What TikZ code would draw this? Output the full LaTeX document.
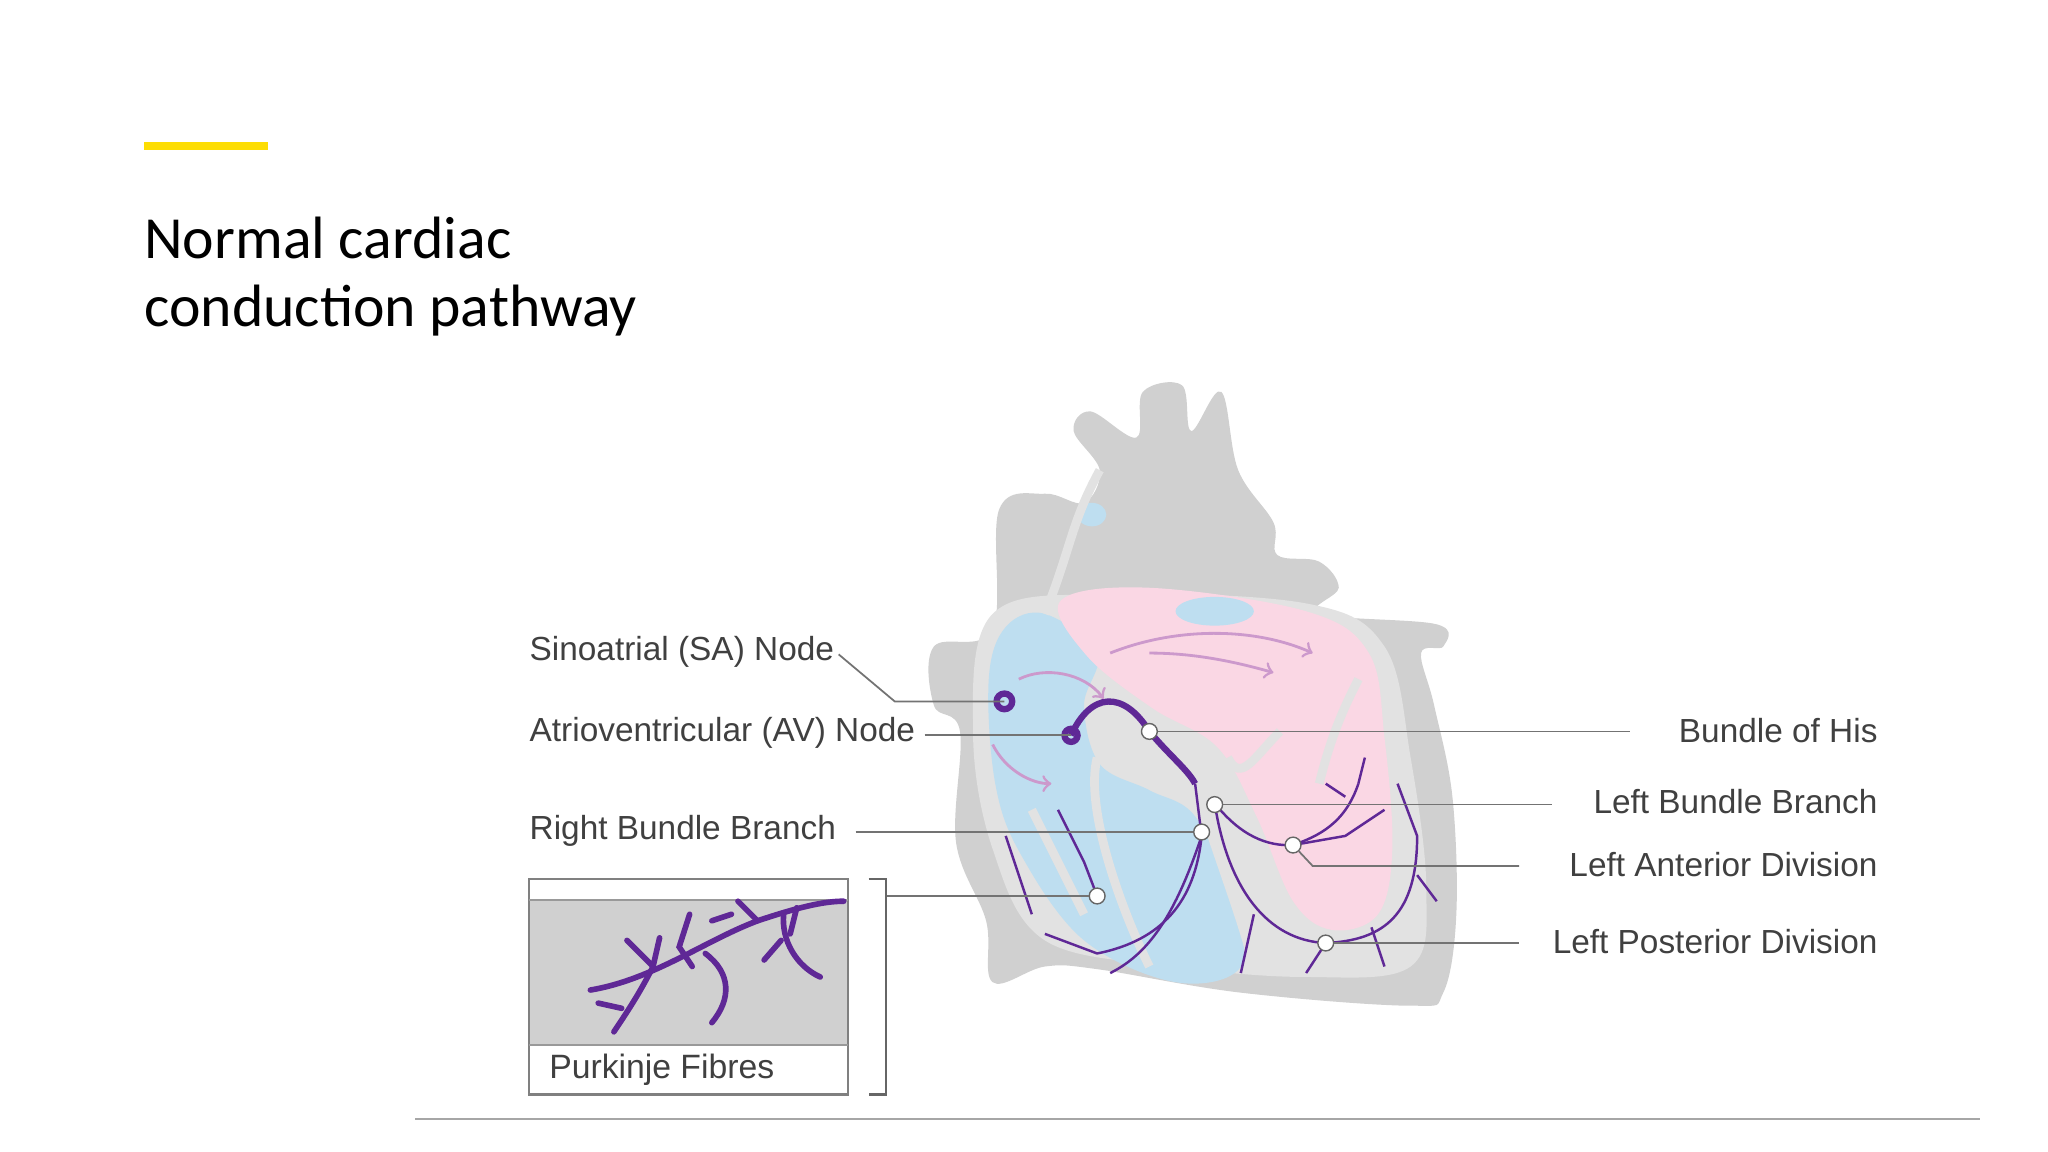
\documentclass[tikz,border=0pt]{standalone}
\usepackage{fontspec}
\setmainfont{Liberation Sans}
\newfontfamily\titlefont{Carlito}
\definecolor{hblue}{RGB}{190,222,240}
\definecolor{hpink}{RGB}{250,215,228}
\definecolor{hgray}{RGB}{208,208,208}
\definecolor{hlgray}{RGB}{226,226,226}
\definecolor{hvio}{RGB}{95,40,150}
\begin{document}
\begin{tikzpicture}[x=0.01306cm,y=-0.01306cm,
  lbl/.style={font=\fontsize{9.5pt}{11pt}\selectfont,text=black!75,inner sep=0},
  lead/.style={draw=black!55,line width=0.5pt},
  dot/.style={circle,draw=black!60,fill=white,inner sep=0,minimum size=4.5pt,line width=0.4pt},
  fib/.style={draw=hvio,line width=0.7pt},
  wall/.style={draw=hlgray,line width=2.5pt}]
\useasboundingbox (0,0) rectangle (1568,882);
\fill[white] (0,0) rectangle (1568,882);
% title
\fill[yellow!80!orange] (110,109) rectangle (205,115);
\node[anchor=west,font=\titlefont\fontsize{17pt}{22pt}\selectfont,inner sep=0] (t1) at (110,182) {Normal cardiac};
\node[anchor=west,font=\titlefont\fontsize{17pt}{22pt}\selectfont,inner sep=0] (t2) at (110,238) {conduction pathway};
\draw[black!35,line width=0.6pt] (318,857) -- (1516,857);
% heart body
\fill[hgray] plot[smooth cycle,tension=0.6] coordinates{(765,390)(800,378)(830,385)(842,360)(822,330)(835,315)(870,335)(875,300)(905,295)(912,330)(935,300)(948,360)(975,400)(978,425)(1010,430)(1025,450)(1010,470)(1100,478)(1105,495)(1088,500)(1098,540)(1112,610)(1115,700)(1105,760)(1080,770)(950,760)(840,742)(800,740)(760,752)(755,705)(732,645)(735,560)(715,540)(715,495)(760,482)};
\fill[hlgray] plot[smooth cycle,tension=0.6] coordinates{(760,470)(850,455)(1000,462)(1060,495)(1080,580)(1092,680)(1080,740)(1000,748)(900,740)(800,720)(760,650)(745,560)};
% right side (blue)
\fill[hblue] plot[smooth cycle,tension=0.6] coordinates{(770,480)(800,470)(840,500)(830,540)(842,585)(880,605)(915,625)(942,685)(950,740)(900,752)(830,720)(782,655)(762,600)(757,520)};
% left side (pink)
\fill[hpink] plot[smooth cycle,tension=0.6] coordinates{(812,460)(880,450)(1000,468)(1048,500)(1060,565)(1066,650)(1055,700)(1020,712)(990,690)(962,625)(932,572)(882,542)(832,502)};
\fill[hblue] (836,394) ellipse (11 and 9);
\fill[hblue] (930,468) ellipse (30 and 11);
% walls
\draw[wall] (800,470) .. controls (820,420) and (820,400) .. (842,360);
\draw[wall] (840,580) .. controls (830,620) and (860,700) .. (880,740);
\draw[wall] (915,600) .. controls (930,650) and (950,700) .. (960,740);
\draw[wall] (940,580) .. controls (950,600) and (960,580) .. (980,560);
\draw[wall] (1010,600) .. controls (1020,560) and (1030,540) .. (1040,520);
\draw[wall] (790,620) .. controls (800,640) and (820,680) .. (830,700);
% conduction
\draw[hvio,line width=1.8pt] (820,563) .. controls (835,530) and (860,528) .. (880,560) .. controls (895,578) and (910,590) .. (915,600);
\draw[hvio,line width=1.8pt] (769,537) circle (6);
\draw[hvio,line width=1.8pt] (820,563) circle (5);
\draw[fib] (915,600) -- (920,640) .. controls (915,690) and (890,720) .. (840,730) -- (800,715);
\draw[fib] (920,640) .. controls (900,700) and (880,730) .. (850,745);
\draw[fib] (790,700) -- (770,640);
\draw[fib] (840,686) -- (830,660) -- (810,620);
\draw[fib] (930,615) .. controls (950,640) and (970,648) .. (990,647) .. controls (1010,640) and (1030,630) .. (1040,600);
\draw[fib] (990,647) -- (1030,640) -- (1060,620);
\draw[fib] (930,615) .. controls (940,680) and (970,720) .. (1015,722) .. controls (1060,720) and (1085,700) .. (1085,640) -- (1070,600);
\draw[fib] (1015,722) -- (1000,745); \draw[fib] (960,700) -- (950,745);
\draw[fib] (1050,710) -- (1060,740); \draw[fib] (1085,670) -- (1100,690);
\draw[fib] (1040,600) -- (1045,580); \draw[fib] (1030,610) -- (1015,600);
\draw[violet!40,line width=0.8pt,->] (780,520) .. controls (800,510) and (830,515) .. (845,535);
\draw[violet!40,line width=0.8pt,->] (760,570) .. controls (770,590) and (790,600) .. (805,600);
\draw[violet!40,line width=0.8pt,->] (850,500) .. controls (900,480) and (960,480) .. (1005,500);
\draw[violet!40,line width=0.8pt,->] (880,500) .. controls (910,500) and (940,505) .. (975,515);
% leader points
\node[dot] (his) at (880,560) {};
\node[dot] (lbb) at (930,616) {};
\node[dot] (rbb) at (920,637) {};
\node[dot] (lad) at (990,647) {};
\node[dot] (lpd) at (1015,722) {};
\node[dot] (pk) at (840,686) {};
\coordinate (sa) at (769,537);
\coordinate (av) at (820,563);
% labels
\node[lbl,anchor=west] (tsa) at (405,499) {Sinoatrial (SA) Node};
\node[lbl,anchor=west] (tav) at (405,561) {Atrioventricular (AV) Node};
\node[lbl,anchor=west] (trbb) at (405,636) {Right Bundle Branch};
\node[lbl,anchor=east] (this) at (1438,559) {Bundle of His};
\node[lbl,anchor=east] (tlbb) at (1438,614) {Left Bundle Branch};
\node[lbl,anchor=east] (tlad) at (1438,662) {Left Anterior Division};
\node[lbl,anchor=east] (tlpd) at (1438,721) {Left Posterior Division};
\draw[lead] (tsa.east) ++(3,2) -- (685,537) -- (sa);
\draw[lead] (708,563) -- (av);
\draw[lead] (655,637) -- (rbb);
\draw[lead] (his) -- (1248,560);
\draw[lead] (lbb) -- (1188,616);
\draw[lead] (lad) -- (1005,663) -- (1163,663);
\draw[lead] (lpd) -- (1163,722);
\draw[lead] (678,686) -- (pk);
% Purkinje inset
\fill[hgray] (405,689) rectangle (649,800);
\draw[black!50,line width=0.6pt] (405,673) rectangle (649,838);
\draw[black!40,line width=0.5pt] (405,689) -- (649,689) (405,800) -- (649,800);
\draw[black!60,line width=0.6pt] (665,673) -- (678,673) -- (678,838) -- (665,838);
\node[lbl,anchor=west,font=\fontsize{9.6pt}{11pt}\selectfont] (tpk) at (420,819) {Purkinje Fibres};
\begin{scope}[hvio,line width=1.6pt,line cap=round]
\draw (452,758) .. controls (500,750) and (540,720) .. (580,705) .. controls (610,695) and (630,690) .. (646,690);
\draw (480,720) -- (500,740) -- (505,718);
\draw (500,740) .. controls (490,760) and (480,775) .. (470,790);
\draw (530,740) -- (520,725) -- (528,700);
\draw (540,730) .. controls (560,745) and (560,765) .. (545,783);
\draw (580,705) -- (565,690); \draw (560,700) -- (545,705);
\draw (600,700) .. controls (598,720) and (610,740) .. (628,748);
\draw (610,695) -- (605,715); \draw (598,720) -- (585,735);
\draw (476,772) -- (458,768);
\end{scope}
\end{tikzpicture}
\end{document}
